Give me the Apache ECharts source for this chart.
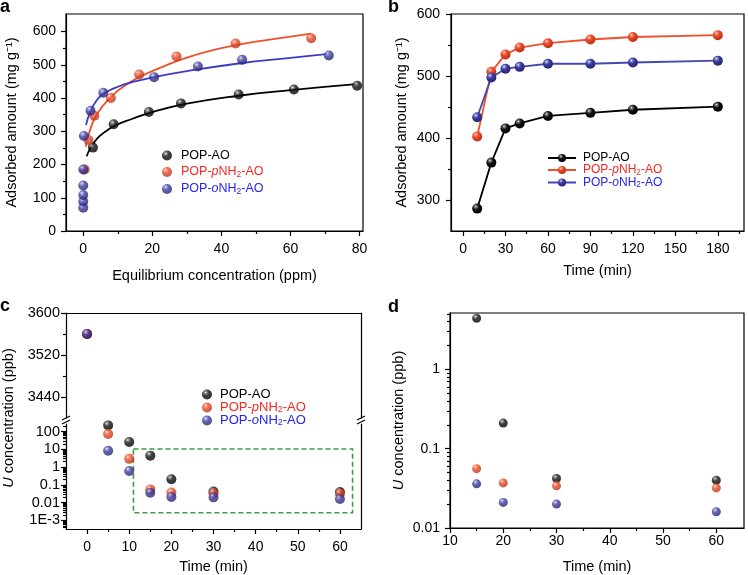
<!DOCTYPE html>
<html>
<head>
<meta charset="utf-8">
<title>POP-AO uranium uptake</title>
<script src="https://cdn.jsdelivr.net/npm/echarts@6/dist/echarts.min.js"></script>
<style>
  html, body { margin: 0; padding: 0; background: #fff; }
  #demo { width: 748px; height: 575px; }
</style>
</head>
<body>
<div id="demo"></div>
<script>
var names = ['POP-AO', 'POP-pNH2-AO', 'POP-oNH2-AO'];

// a: isotherm points, Ce (ppm) / qe (mg g-1)
var ceBlack = [2.8, 8.8, 19.0, 28.3, 45.0, 61.0, 79.3];
var qeBlack = [251, 321, 358, 384, 411, 426, 437];
var ceRed = [0.4, 1.5, 3.2, 8.0, 16.2, 27.0, 44.1, 66.0];
var qeRed = [185, 274, 347, 400, 471, 525, 564, 580];
var ceBlue = [0, 0, 0, 0, 0, 0.2, 2.1, 5.8, 20.5, 33.2, 46.0, 71.1];
var qeBlue = [70, 89, 108, 137, 185, 286, 362, 416, 463, 495, 515, 528];

// a: fitted curves
var fitXBlack = [1, 2, 4, 6, 9, 14, 20, 30, 45, 60, 79];
var fitYBlack = [225, 248, 278, 296, 316, 337, 358, 383, 407, 424, 442];
var fitXRed = [0.7, 2, 4, 8, 12, 16, 22, 30, 40, 50, 60, 66];
var fitYRed = [254, 305, 352, 403, 437, 462, 490, 522, 550, 570, 585, 594];
var fitXBlue = [0.8, 2, 4, 6, 10, 15, 20, 30, 45, 60, 71];
var fitYBlue = [319, 358, 395, 414, 434, 450, 462, 481, 504, 521, 533];

// b: kinetics
var timeB = [10, 20, 30, 40, 60, 90, 120, 180];
var qBlackB = [287, 361, 416, 424, 436, 441, 446, 451];
var qRedB = [403, 507, 535, 546, 553, 559, 563, 566];
var qBlueB = [434, 498, 512, 515, 520, 520, 522, 525];

// c / d: U concentration (ppb)
var timeC = [0, 5, 10, 15, 20, 30, 60];
var uBlack = [3560, 220, 26, 4.4, 0.21, 0.042, 0.040];
var uRed = [3560, 72, 2.9, 0.056, 0.037, 0.034, 0.032];
var uBlue = [3560, 8.3, 0.6, 0.036, 0.021, 0.020, 0.016];

// ticks
var ticksAX = [0, 20, 40, 60, 80], minorAX = [10, 30, 50, 70];
var ticksAY = [0, 100, 200, 300, 400, 500, 600], minorAY = [50, 150, 250, 350, 450, 550];
var ticksBX = [0, 30, 60, 90, 120, 150, 180], minorBX = [15, 45, 75, 105, 135, 165, 195];
var ticksBY = [300, 400, 500, 600], minorBY = [350, 450, 550];
var ticksCX = [0, 10, 20, 30, 40, 50, 60], minorCX = [5, 15, 25, 35, 45, 55];
var ticksCUp = [3440, 3520, 3600], minorCUp = [3480, 3560];
var ticksCLow = [0.001, 0.01, 0.1, 1, 10, 100];
var ticksDX = [10, 20, 30, 40, 50, 60], minorDX = [15, 25, 35, 45, 55];
var ticksDY = [0.01, 0.1, 1];

var FONT = '"Liberation Sans", Arial, Helvetica, sans-serif';
var RED = '#f0502c', BLUE = '#3b3bc4';

function logMinor(lo, hi) {
    var out = [];
    for (var d = lo; d < hi; d *= 10) {
        for (var k = 2; k <= 9; k++) out.push(+(d * k).toPrecision(3));
    }
    return out;
}

function pts(xs, ys) {
    return xs.map(function (x, i) { return [x, ys[i]]; });
}

function ball(c0, c1, c2) {
    return {
        type: 'radial', x: 0.36, y: 0.3, r: 0.75,
        colorStops: [
            {offset: 0, color: '#ffffff'}, {offset: 0.14, color: c0},
            {offset: 0.42, color: c1}, {offset: 1, color: c2}
        ]
    };
}
var balls = [
    ball('#7a7a7a', '#101010', '#000000'),
    ball('#ff8a6a', '#e8482a', '#b03014'),
    ball('#8e8ed0', '#3a3a9e', '#22226a')
];

function plainLabel(v) {
    return String(v);
}

function logLabel(v) {
    if (Math.abs(v - 0.001) < 1e-9) return '1E-3';
    return String(+v.toPrecision(3));
}

var axisLine = {color: '#000', width: 1.2};

// main axis (labels + long ticks) and an overlay axis carrying the short ticks
function axisPair(grid, pos, type, min, max, major, minor, o) {
    o = o || {};
    var main = {
        type: type, gridIndex: grid, position: pos, min: min, max: max,
        axisLine: {show: true, onZero: false, lineStyle: axisLine},
        axisTick: {show: !!major, customValues: major, length: 5, lineStyle: axisLine},
        axisLabel: {
            show: !!major && !o.noLabel, customValues: major, margin: o.margin || 8,
            fontSize: o.size || 14, fontFamily: FONT, color: '#000', formatter: o.formatter || plainLabel
        },
        splitLine: {show: false},
        name: o.name, nameLocation: 'middle', nameGap: o.gap,
        nameTextStyle: {fontSize: o.nameSize || 14.5, fontFamily: FONT, color: '#000', rich: o.rich}
    };
    var mnr = {
        type: type, gridIndex: grid, position: pos, min: min, max: max,
        axisLine: {show: false, onZero: false},
        axisTick: {show: !!minor, customValues: minor, length: 3, lineStyle: axisLine},
        axisLabel: {show: false},
        splitLine: {show: false}
    };
    if (type === 'log') { main.logBase = 10; mnr.logBase = 10; }
    return [main, mnr];
}

function plainAxis(grid, pos, type, min, max) {
    var a = {
        type: type, gridIndex: grid, position: pos, min: min, max: max,
        axisLine: {show: true, onZero: false, lineStyle: axisLine},
        axisTick: {show: false}, axisLabel: {show: false}, splitLine: {show: false}
    };
    if (type === 'log') a.logBase = 10;
    return a;
}

var italicU = {i: {fontStyle: 'italic', fontSize: 14.5, fontFamily: FONT, color: '#000'}};

var xAxes = [].concat(
    axisPair(0, 'bottom', 'value', -5, 81, ticksAX, minorAX, {margin: 11, name: 'Equilibrium concentration (ppm)', gap: 37}),
    axisPair(1, 'bottom', 'value', -8.5, 198.5, ticksBX, minorBX, {margin: 11, name: 'Time (min)', gap: 32}),
    [plainAxis(2, 'top', 'value', -5, 65)],
    axisPair(3, 'bottom', 'value', -5, 65, ticksCX, minorCX, {margin: 11, name: 'Time (min)', gap: 30}),
    axisPair(4, 'bottom', 'value', 10, 65.2, ticksDX, minorDX, {margin: 6, name: 'Time (min)', gap: 31})
);

var yAxes = [].concat(
    axisPair(0, 'left', 'value', 0, 653, ticksAY, minorAY, {margin: 10, name: 'Adsorbed amount (mg g\u207B\u00B9)', gap: 47}),
    axisPair(1, 'left', 'value', 251, 600, ticksBY, minorBY, {margin: 11, name: 'Adsorbed amount (mg g\u207B\u00B9)', gap: 42}),
    axisPair(2, 'left', 'value', 3400, 3600, ticksCUp, minorCUp, {margin: 6, size: 14.5}),
    [plainAxis(2, 'right', 'value', 3400, 3600)],
    axisPair(3, 'left', 'log', 0.000333, 264, ticksCLow, logMinor(0.0001, 1000), {margin: 6, size: 14.5, formatter: logLabel}),
    [plainAxis(3, 'right', 'log', 0.000333, 264)],
    axisPair(4, 'left', 'log', 0.01, 5.12, ticksDY, logMinor(0.01, 10), {margin: 10, formatter: logLabel, name: '{i|U} concentration (ppb)', gap: 44, rich: italicU})
);

var series = [];
var fits = [[fitXBlack, fitYBlack, '#000'], [fitXRed, fitYRed, RED], [fitXBlue, fitYBlue, BLUE]];
fits.forEach(function (f, i) {
    series.push({
        type: 'line', name: 'fit' + i, xAxisIndex: 0, yAxisIndex: 0, data: pts(f[0], f[1]),
        smooth: true, symbol: 'none', silent: true, lineStyle: {color: f[2], width: 1.8}, z: 2
    });
});
[[ceBlack, qeBlack], [ceRed, qeRed], [ceBlue, qeBlue]].forEach(function (d, i) {
    series.push({
        type: 'scatter', name: names[i] + '#a', xAxisIndex: 0, yAxisIndex: 0, data: pts(d[0], d[1]),
        symbolSize: 10, itemStyle: {color: balls[i]}, z: 3
    });
});

var lineCols = ['#000', RED, '#4545b4'];
[qBlackB, qRedB, qBlueB].forEach(function (q, i) {
    series.push({
        type: 'line', name: names[i] + '#b', xAxisIndex: 2, yAxisIndex: 2, data: pts(timeB, q),
        symbol: 'circle', symbolSize: 10, itemStyle: {color: balls[i]},
        lineStyle: {color: lineCols[i], width: 1.8}
    });
});

// c: upper (linear) part and lower (log) part of the broken axis
[uBlack, uRed, uBlue].forEach(function (u, i) {
    var all = pts(timeC, u);
    series.push({
        type: 'scatter', name: names[i] + '#c', xAxisIndex: 4, yAxisIndex: 4,
        data: all.filter(function (p) { return p[1] >= 3400; }),
        symbolSize: 10, itemStyle: {color: balls[i]}
    });
    var low = {
        type: 'scatter', name: names[i] + '#c', xAxisIndex: 5, yAxisIndex: 7,
        data: all.filter(function (p) { return p[1] < 3400; }),
        symbolSize: 10, itemStyle: {color: balls[i]}
    };
    if (i === 0) {
        low.markArea = {
            silent: true,
            itemStyle: {color: 'rgba(0,0,0,0)', borderColor: '#3f9c3f', borderWidth: 1.6, borderType: [5, 3]},
            data: [[{coord: [11, 10.4]}, {coord: [63, 0.00275]}]]
        };
    }
    series.push(low);
});

// d: zoom on 15-60 min
[uBlack, uRed, uBlue].forEach(function (u, i) {
    series.push({
        type: 'scatter', name: names[i] + '#d', xAxisIndex: 7, yAxisIndex: 10,
        data: pts(timeC.slice(3), u.slice(3)),
        symbolSize: 9, itemStyle: {color: balls[i]}
    });
});

function richSet(size, lh) {
    var cols = {k: '#000', r: '#f22a22', b: '#2424ee'};
    var out = {};
    Object.keys(cols).forEach(function (c) {
        out[c] = {color: cols[c], fontSize: size, lineHeight: lh, fontFamily: FONT};
        out[c + 'i'] = {color: cols[c], fontSize: size, lineHeight: lh, fontFamily: FONT, fontStyle: 'italic'};
        out[c + 's'] = {color: cols[c], fontSize: size * 0.68, lineHeight: size * 0.6, fontFamily: FONT, verticalAlign: 'bottom'};
    });
    return out;
}

function legendText(name) {
    var base = name.split('#')[0];
    if (base === names[0]) return '{k|POP-AO}';
    var c = base === names[1] ? 'r' : 'b';
    return '{' + c + '|POP-}{' + c + 'i|' + base.charAt(4) + '}{' + c + '|NH}{' + c + 's|2}{' + c + '|-AO}';
}

function legendFor(tag, left, top, w, size, lh, gap, pad, icon) {
    return {
        orient: 'vertical', left: left, top: top, padding: 0, itemGap: gap,
        itemWidth: w, itemHeight: 10, selectedMode: false,
        data: names.map(function (n) { var d = {name: n + tag}; if (icon) d.icon = icon; return d; }),
        formatter: legendText,
        textStyle: {padding: [0, 0, 0, pad], rich: richSet(size, lh)}
    };
}

var gridBox = {show: true, borderColor: '#000', borderWidth: 1.2, backgroundColor: 'transparent'};
function grid(l, t, w, h, box) {
    var g = {left: l, top: t, width: w, height: h, outerBoundsMode: 'none'};
    if (box) { for (var k in gridBox) g[k] = gridBox[k]; }
    return g;
}

function breakMark(x, y) {
    return {
        type: 'group', silent: true,
        children: [
            {type: 'line', shape: {x1: x - 4, y1: y + 1, x2: x + 4, y2: y - 3}, style: {stroke: '#000', lineWidth: 1.2}},
            {type: 'line', shape: {x1: x - 4, y1: y + 5, x2: x + 4, y2: y + 1}, style: {stroke: '#000', lineWidth: 1.2}}
        ]
    };
}

function letter(t, x, y) {
    return {type: 'text', x: x, y: y, style: {text: t, font: 'bold 18px ' + FONT, fill: '#000', verticalAlign: 'middle'}};
}

var myChart = echarts.init(document.getElementById('demo'), null, {renderer: 'canvas'});
var option = {
    animation: false,
    backgroundColor: '#fff',
    textStyle: {fontFamily: FONT},
    grid: [
        grid(66, 14, 297, 217, true),
        grid(451, 14, 293, 217, true),
        grid(66, 313, 295, 105, false),
        grid(66, 424, 295, 105, false),
        grid(450, 313, 294, 215, true)
    ],
    xAxis: xAxes,
    yAxis: yAxes,
    legend: [
        legendFor('#a', 162, 149, 10, 12.5, 14, 3.5, 4, 'circle'),
        legendFor('#b', 547, 152, 28, 12, 13, 0, 2, null),
        legendFor('#c', 202, 388, 10, 13, 12.5, 0, 3, 'circle')
    ],
    graphic: [
        letter('a', 0, 7), letter('b', 388, 7), letter('c', 0, 306), letter('d', 388, 307),
        breakMark(66, 419), breakMark(361, 419),
        {
            type: 'text', x: 9, y: 418, rotation: Math.PI / 2,
            style: {
                text: '{i|U} concentration (ppb)', align: 'center', verticalAlign: 'middle',
                font: '14.5px ' + FONT, fill: '#000', rich: italicU
            }
        }
    ],
    series: series
};
myChart.setOption(option);
</script>
</body>
</html>
